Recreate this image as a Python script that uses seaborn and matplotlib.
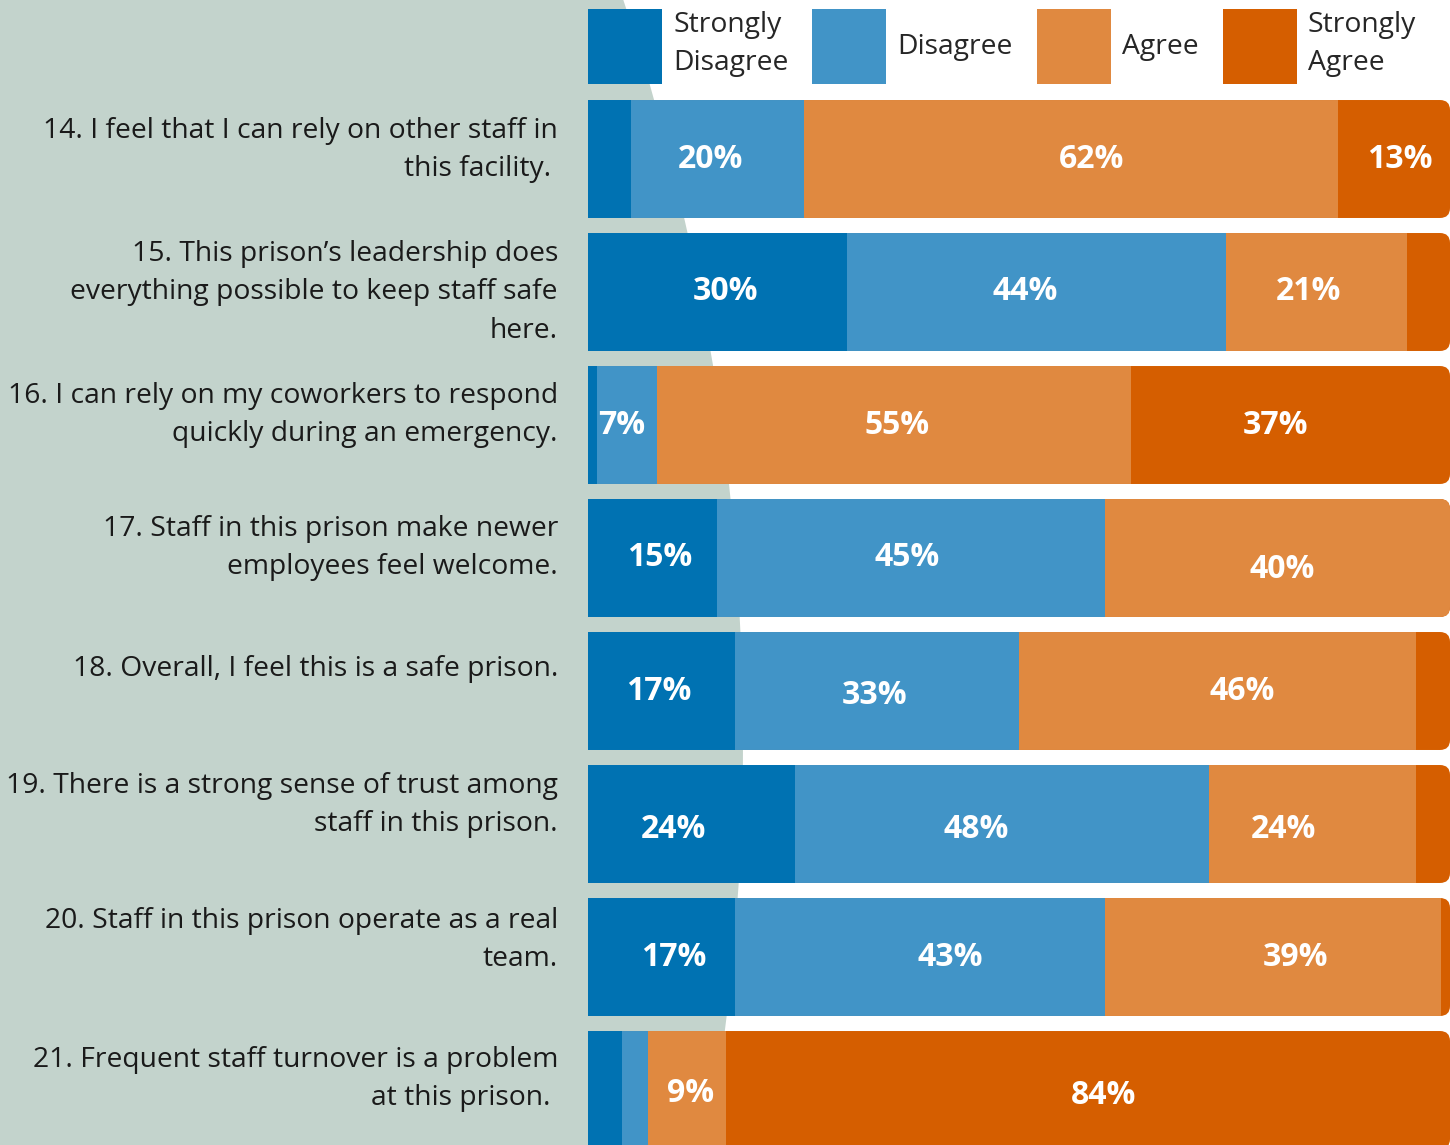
import numpy as np
import pandas as pd
import matplotlib
matplotlib.use("Agg")
import matplotlib.pyplot as plt
from matplotlib.patches import Ellipse, FancyBboxPatch, Patch
import seaborn as sns

# ---------------- data ----------------
questions = [
    "14. I feel that I can rely on other staff in\nthis facility. ",
    "15. This prison\u2019s leadership does\neverything possible to keep staff safe\nhere.",
    "16. I can rely on my coworkers to respond\nquickly during an emergency.",
    "17. Staff in this prison make newer\nemployees feel welcome.",
    "18. Overall, I feel this is a safe prison.",
    "19. There is a strong sense of trust among\nstaff in this prison.",
    "20. Staff in this prison operate as a real\nteam.",
    "21. Frequent staff turnover is a problem\nat this prison. ",
]
keys = ["Q14", "Q15", "Q16", "Q17", "Q18", "Q19", "Q20", "Q21"]

strongly_disagree = [5, 30, 1, 15, 17, 24, 17, 4]
disagree = [20, 44, 7, 45, 33, 48, 43, 3]
agree = [62, 21, 55, 40, 46, 24, 39, 9]
strongly_agree = [13, 5, 37, 0, 4, 4, 1, 84]

categories = ["Strongly\nDisagree", "Disagree", "Agree", "Strongly\nAgree"]
colors = ["#0072b2", "#4194c7", "#e08940", "#d55e00"]

# label nudges in pixels (as placed in the original), per row: SD, D, A, SA
label_dx = [[0, -7, 21, 6], [8, -11, -8, 0], [0, -5, 3, -15], [7, -4, 5, 0],
            [-3, -2, 25, 0], [-18, -26, -29, 0], [12, 30, 22, 0], [0, 0, 3, 16]]
label_dy = [[0, 0, 0, 0], [0, 0, 0, 0], [0, 0, 0, 0], [0, 0, 12, 0],
            [0, 5, 0, 0], [5, 5, 5, 0], [0, 0, 0, 0], [0, 0, 3, 5]]

# ---------------- figure ----------------
sns.set_style("white")
plt.rcParams["font.family"] = ["Open Sans", "DejaVu Sans"]

W, H = 1450, 1145
fig = plt.figure(figsize=(W / 100, H / 100), dpi=100)
fig.patch.set_facecolor("white")

# grey-green background shape with a curved right edge
R = 2350
bg = Ellipse(((743 - R) / W, 1 - 740 / H), 2 * R / W, 2 * R / H,
             transform=fig.transFigure, facecolor="#c3d3cc", edgecolor="none", zorder=0)
fig.add_artist(bg)

ax = fig.add_axes([588 / W, 0, 862 / W, 1])
ax.set_facecolor("none")

df = pd.DataFrame({"key": keys, "sd": strongly_disagree, "d": disagree,
                   "a": agree, "sa": strongly_agree})
layers = [df["sd"], df["d"], df["a"], df["sa"]]
cum = np.cumsum(np.array(layers, dtype=float), axis=0)

bar_h = 0.887
all_bars = []
# draw cumulative totals from the largest down so they stack visually
for k in range(3, -1, -1):
    start = len(ax.patches)
    sns.barplot(x=cum[k], y=df["key"], orient="h", color=colors[k], saturation=1,
                width=bar_h, errorbar=None, linewidth=0, ax=ax, zorder=2)
    all_bars.append(ax.patches[start:])

# rounded right ends
px_x = 862 / 100.0
px_y = 133.0
rx = 10 / px_x
ry = 10 / px_y
for i in range(len(keys)):
    clip = FancyBboxPatch((-10, i - bar_h / 2), 110, bar_h,
                          boxstyle=f"round,pad=0,rounding_size={rx}",
                          mutation_aspect=ry / rx, transform=ax.transData)
    for layer in all_bars:
        layer[i].set_clip_path(clip)

# percentage labels
for k in range(4):
    left = cum[k] - layers[k]
    for i, v in enumerate(layers[k]):
        if v >= 7:
            ax.text(left[i] + v / 2 + label_dx[i][k] / px_x, i + label_dy[i][k] / px_y,
                    f"{v}%", ha="center", va="center",
                    color="white", fontsize=23, fontweight="bold", zorder=5)

# question labels
label_shift = [-9, 0, -10, -10, -22, -19, -17, -11]
for i, q in enumerate(questions):
    ax.text(-30 / px_x, i + label_shift[i] / px_y, q, ha="right", va="center",
            fontsize=20.3, color="#1a1a1a", linespacing=1.5, clip_on=False)

ax.set_xlim(0, 100)
ax.set_ylim((H - 159) / px_y, -159 / px_y)
ax.set_yticks([])
ax.set_xticks([])
ax.set_xlabel("")
ax.set_ylabel("")
sns.despine(ax=ax, left=True, bottom=True)

handles = [Patch(facecolor=c, edgecolor="none") for c in colors]
leg = fig.legend(handles, categories, loc="upper left", bbox_to_anchor=(588 / W, 1 - 9 / H),
                 ncol=4, frameon=False, fontsize=20.3, handlelength=2.62, handleheight=3.72,
                 handletextpad=0.4, columnspacing=0.85, borderpad=0, borderaxespad=0,
                 labelspacing=0.2)
for t in leg.get_texts():
    t.set_linespacing(1.5)

fig.savefig("out.png", dpi=100, facecolor="white")
